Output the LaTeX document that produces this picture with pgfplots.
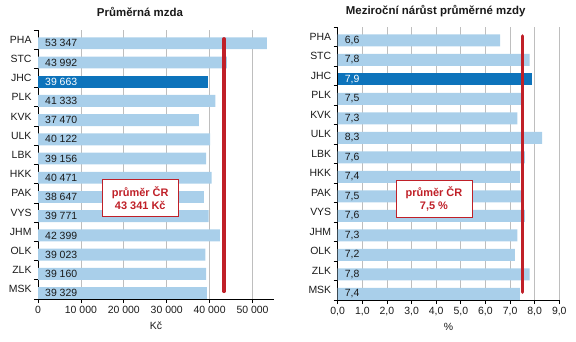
\documentclass[border=0pt]{standalone}
\usepackage{pgfplots}
\pgfplotsset{compat=1.18}
\usepackage{pgfplotstable}
\usepackage{fontspec}
\setmainfont{Liberation Sans}
\definecolor{barlight}{RGB}{169,207,234}
\definecolor{bardark}{RGB}{13,115,187}
\definecolor{avgred}{RGB}{192,32,40}
\definecolor{gridgray}{RGB}{190,190,190}
\definecolor{txt}{RGB}{26,26,26}

% idx: MSK=0 ... PHA=13 ; JHC (11) drawn separately
\pgfplotstableread{
idx v
13 53347
12 43992
10 41333
9 37470
8 40122
7 39156
6 40471
5 38647
4 39771
3 42399
2 39023
1 39160
0 39329
}\mzda
\pgfplotstableread{
idx v
13 6.6
12 7.8
10 7.5
9 7.3
8 8.3
7 7.6
6 7.4
5 7.5
4 7.6
3 7.3
2 7.2
1 7.8
0 7.4
}\narust

\newcommand{\lfont}{\fontsize{10.5}{12}\selectfont}

\pgfplotsset{
  /pgf/number format/assume math mode=true,
  common/.style={
    scale only axis,
    anchor=south west,
    ymin=-0.5, ymax=13.5,
    scaled x ticks=false,
    xmajorgrids,
    grid style={gridgray, line width=0.75bp},
    axis x line*=bottom, axis y line*=left,
    axis line style={-, black, line width=0.8bp},
    ytick={-0.5,0.5,...,13.5}, yticklabels={},
    extra y ticks={0,1,...,13},
    extra y tick labels={MSK,ZLK,OLK,JHM,VYS,PAK,HKK,LBK,ULK,KVK,PLK,JHC,STC,PHA},
    extra y tick style={major tick length=0pt, tick style={draw=none}},
    tick align=outside, major tick length=4bp,
    tick style={black, line width=0.75bp},
    tick label style={font=\lfont, text=txt},
    yticklabel style={xshift=-3bp},
    bar width=0.62, bar shift=0pt,
    title style={font=\fontsize{11.5}{13}\selectfont\bfseries, text=txt, anchor=center},
    xlabel style={font=\lfont, text=txt, at={(axis description cs:0.5,0)}, anchor=center, yshift=-27bp},
  },
}

\begin{document}
\begin{tikzpicture}
\useasboundingbox (0,0) rectangle (576bp,342bp);

% ---------- left panel ----------
\begin{axis}[common,
  at={(38bp,43bp)}, width=236bp, height=269bp,
  xmin=0, xmax=55000,
  xtick={0,10000,20000,30000,40000,50000},
  xticklabels={0,10 000,20 000,30 000,40 000,50 000},
  xlabel={Kč},
  title={Průměrná mzda},
  title style={at={(axis description cs:0.432,1)}, yshift=12.5bp},
]
\addplot[xbar, fill=barlight, draw=none] table[x=v, y expr=\thisrow{idx}-0.19] {\mzda};
\addplot[xbar, fill=bardark, draw=none] coordinates {(39663,10.81)};
\addplot[draw=none, mark=none, point meta=\thisrow{v},
  nodes near coords={\pgfmathprintnumber[1000 sep={\ }, precision=0]{\pgfplotspointmeta}},
  every node near coord/.append style={anchor=west, inner sep=0pt, xshift=7bp, font=\lfont, text=txt}]
  table[x expr=0, y expr=\thisrow{idx}-0.19] {\mzda};
\addplot[draw=none, mark=none, point meta=explicit symbolic,
  nodes near coords,
  every node near coord/.append style={anchor=west, inner sep=0pt, xshift=7bp, font=\lfont, text=white}]
  coordinates {(0,10.81) [39 663]};
\addplot[avgred, line width=3.5bp, line cap=round] coordinates {(43341,13.04) (43341,-0.1)};
\node[draw=avgred, fill=white, text=avgred, font=\fontsize{11}{13}\selectfont\bfseries,
  align=center, minimum width=76bp, minimum height=37bp, inner sep=1bp, line width=0.9bp]
  at (axis cs:23830,4.76) {průměr ČR\\43 341 Kč};
\end{axis}

% ---------- right panel ----------
\begin{axis}[common,
  at={(337.7bp,42bp)}, width=221.6bp, height=273bp,
  xmin=0, xmax=9,
  xtick={0,1,...,9},
  xticklabels={{0,0},{1,0},{2,0},{3,0},{4,0},{5,0},{6,0},{7,0},{8,0},{9,0}},
  xlabel={\%},
  title={Meziroční nárůst průměrné mzdy},
  title style={at={(axis description cs:0.442,1)}, yshift=10bp},
]
\addplot[xbar, fill=barlight, draw=none] table[x=v, y expr=\thisrow{idx}-0.19] {\narust};
\addplot[xbar, fill=bardark, draw=none] coordinates {(7.9,10.81)};
\addplot[draw=none, mark=none, point meta=\thisrow{v},
  nodes near coords={\pgfmathprintnumber[fixed, fixed zerofill, precision=1, use comma]{\pgfplotspointmeta}},
  every node near coord/.append style={anchor=west, inner sep=0pt, xshift=7bp, font=\lfont, text=txt}]
  table[x expr=0, y expr=\thisrow{idx}-0.19] {\narust};
\addplot[draw=none, mark=none, point meta=explicit symbolic,
  nodes near coords,
  every node near coord/.append style={anchor=west, inner sep=0pt, xshift=7bp, font=\lfont, text=white}]
  coordinates {(0,10.81) [{7,9}]};
\addplot[avgred, line width=3.5bp, line cap=round] coordinates {(7.5,13.04) (7.5,-0.1)};
\node[draw=avgred, fill=white, text=avgred, font=\fontsize{11}{13}\selectfont\bfseries,
  align=center, minimum width=76bp, minimum height=37bp, inner sep=1bp, line width=0.9bp]
  at (axis cs:3.91,4.68) {průměr ČR\\7,5 \%};
\end{axis}
\end{tikzpicture}
\end{document}
